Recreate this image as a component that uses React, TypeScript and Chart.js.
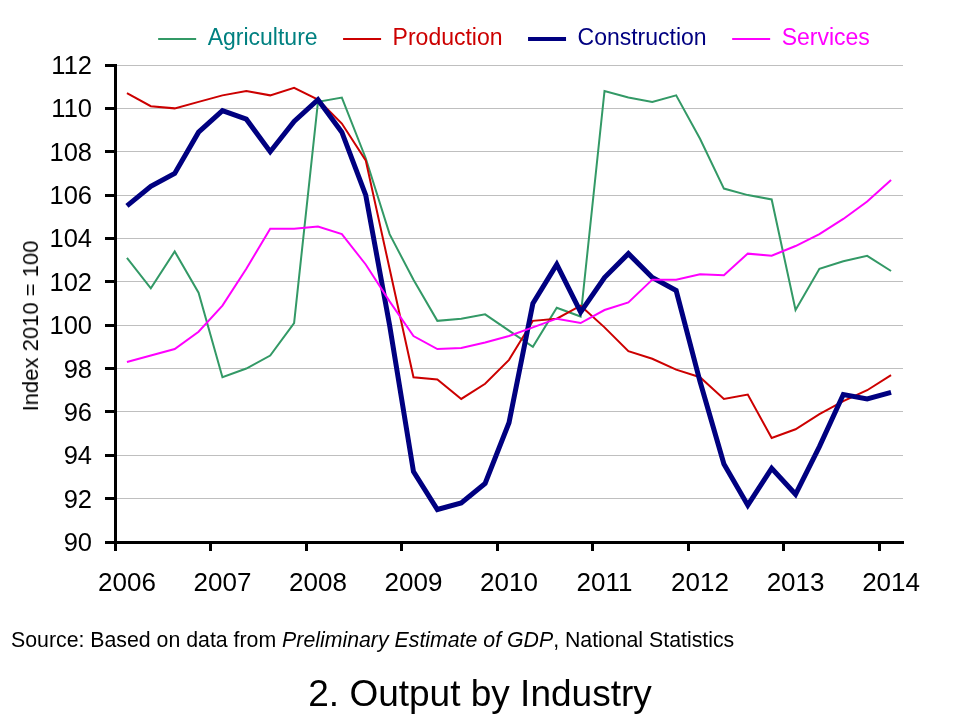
import { useEffect, useRef } from 'react';
import { Chart, registerables } from 'chart.js';

Chart.register(...registerables);

const quarters = [
  '2006 Q1', '2006 Q2', '2006 Q3', '2006 Q4',
  '2007 Q1', '2007 Q2', '2007 Q3', '2007 Q4',
  '2008 Q1', '2008 Q2', '2008 Q3', '2008 Q4',
  '2009 Q1', '2009 Q2', '2009 Q3', '2009 Q4',
  '2010 Q1', '2010 Q2', '2010 Q3', '2010 Q4',
  '2011 Q1', '2011 Q2', '2011 Q3', '2011 Q4',
  '2012 Q1', '2012 Q2', '2012 Q3', '2012 Q4',
  '2013 Q1', '2013 Q2', '2013 Q3', '2013 Q4',
  '2014 Q1',
];

const agriculture = [
  103.1, 101.7, 103.4, 101.5, 97.6, 98.0, 98.6, 100.1,
  110.3, 110.5, 107.7, 104.2, 102.1, 100.2, 100.3, 100.5,
  99.75, 99.0, 100.8, 100.4, 110.8, 110.5, 110.3, 110.6,
  108.6, 106.3, 106.0, 105.8, 100.7, 102.6, 102.95, 103.2,
  102.5,
];

const production = [
  110.7, 110.1, 110.0, 110.3, 110.6, 110.8, 110.6, 110.95,
  110.4, 109.3, 107.6, 102.6, 97.6, 97.5, 96.6, 97.3,
  98.4, 100.2, 100.3, 100.9, 99.9, 98.8, 98.45, 97.95,
  97.6, 96.6, 96.8, 94.8, 95.2, 95.9, 96.5, 97.0,
  97.7,
];

const construction = [
  105.5, 106.4, 107.0, 108.9, 109.9, 109.5, 108.0, 109.4,
  110.4, 108.9, 106.0, 100.0, 93.25, 91.5, 91.8, 92.7,
  95.5, 101.0, 102.8, 100.6, 102.2, 103.3, 102.2, 101.6,
  97.4, 93.6, 91.7, 93.4, 92.2, 94.4, 96.8, 96.6,
  96.9,
];

const services = [
  98.3, 98.6, 98.9, 99.7, 100.9, 102.6, 104.45, 104.45,
  104.55, 104.2, 102.8, 101.1, 99.5, 98.9, 98.95, 99.2,
  99.5, 99.9, 100.3, 100.1, 100.7, 101.05, 102.1, 102.1,
  102.35, 102.3, 103.3, 103.2, 103.65, 104.2, 104.9, 105.7,
  106.7,
];

const seriesNames = ['Agriculture', 'Production', 'Construction', 'Services'];
const lineColors = ['#339966', '#CC0000', '#000080', '#FF00FF'];
const legendTextColors = ['#008080', '#CC0000', '#000080', '#FF00FF'];
const lineWidths = [2, 2, 5, 2];
const legendLineWidths = [2, 2, 4, 2];

const yMin = 90;
const yMax = 112;
const yStep = 2;

const FONT = '"Liberation Sans", Arial, Helvetica, sans-serif';

const legendSizePlugin = {
  id: 'legendSize',
  beforeInit(chart: any) {
    const legend = chart.legend;
    if (!legend) return;
    const fit = legend.fit;
    legend.fit = function () {
      fit.call(this);
      this.height = 63;
    };
  },
  afterLayout(chart: any) {
    const l = chart.legend;
    if (l) {
      l.left += 5;
      l.right += 5;
    }
  },
};

export default function App() {
  const ref = useRef<HTMLCanvasElement>(null);

  useEffect(() => {
    const canvas = ref.current;
    if (!canvas) return;
    const seriesData = [agriculture, production, construction, services];
    const chart = new Chart(canvas, {
      type: 'line',
      data: {
        labels: quarters,
        datasets: seriesData.map((d, i) => ({
          label: seriesNames[i],
          data: d,
          borderColor: lineColors[i],
          backgroundColor: lineColors[i],
          borderWidth: lineWidths[i],
          pointRadius: 0,
          pointHoverRadius: 0,
          tension: 0,
          fill: false,
          order: 4 - i,
        })),
      },
      options: {
        responsive: false,
        animation: false,
        devicePixelRatio: 1,
        events: [],
        layout: { padding: { top: 2, left: 0, right: 57, bottom: 100 } },
        plugins: {
          tooltip: { enabled: false },
          legend: {
            display: true,
            position: 'top',
            fullSize: false,
            align: 'center',
            labels: {
              usePointStyle: true,
              pointStyle: 'line',
              pointStyleWidth: 38,
              boxHeight: 4,
              padding: 25.5,
              font: { family: FONT, size: 23 },
              generateLabels(ch: any) {
                return ch.data.datasets.map((ds: any, i: number) => ({
                  text: ds.label,
                  fillStyle: ds.borderColor,
                  strokeStyle: ds.borderColor,
                  lineWidth: legendLineWidths[i],
                  lineCap: 'butt',
                  pointStyle: 'line',
                  fontColor: legendTextColors[i],
                  hidden: false,
                  datasetIndex: i,
                }));
              },
            },
          },
        },
        scales: {
          x: {
            type: 'category',
            offset: true,
            grid: {
              display: true,
              offset: true,
              drawOnChartArea: false,
              drawTicks: true,
              tickLength: 9,
              tickWidth: 3,
              tickColor: (c: any) =>
                typeof c.index === 'number' && c.index % 4 === 0 ? '#000000' : 'rgba(0,0,0,0)',
            },
            border: { display: true, color: '#000000', width: 3 },
            ticks: {
              autoSkip: false,
              maxRotation: 0,
              minRotation: 0,
              padding: 17,
              color: '#000000',
              font: { family: FONT, size: 26 },
              callback: (_v: any, index: number) => {
                const l = quarters[index];
                return l && l.endsWith('Q1') ? l.slice(0, 4) : '';
              },
            },
            afterFit(scale: any) {
              scale.height = 78;
            },
          },
          y: {
            min: yMin,
            max: yMax,
            grid: {
              color: '#BFBFBF',
              lineWidth: 1,
              tickColor: '#000000',
              tickWidth: 3,
              tickLength: 10,
            },
            border: { display: true, color: '#000000', width: 3 },
            ticks: {
              stepSize: yStep,
              padding: 13,
              labelOffset: 2,
              color: '#000000',
              font: { family: FONT, size: 25.5 },
            },
            afterFit(scale: any) {
              scale.width = 115;
            },
          },
        },
      },
      plugins: [legendSizePlugin as any],
    } as any);
    return () => chart.destroy();
  }, []);

  return (
    <div
      style={{
        position: 'absolute',
        left: 0,
        top: 0,
        width: 960,
        height: 720,
        background: '#ffffff',
        fontFamily: FONT,
        color: '#000',
      }}
    >
      <canvas ref={ref} width={960} height={720} style={{ display: 'block', width: 960, height: 720 }} />
      <div
        style={{
          position: 'absolute',
          left: 31,
          top: 326,
          transform: 'translate(-50%, -50%) rotate(-90deg)',
          fontSize: 22,
          lineHeight: '22px',
          whiteSpace: 'nowrap',
        }}
      >
        Index 2010 = 100
      </div>
      <div
        style={{
          position: 'absolute',
          left: 11,
          top: 630,
          fontSize: 21.3,
          lineHeight: '21.3px',
          whiteSpace: 'nowrap',
        }}
      >
        Source: Based on data from <i>Preliminary Estimate of GDP</i>, National Statistics
      </div>
      <div
        style={{
          position: 'absolute',
          left: 0,
          top: 675,
          width: 960,
          textAlign: 'center',
          fontSize: 37,
          lineHeight: '37px',
          whiteSpace: 'nowrap',
        }}
      >
        2. Output by Industry
      </div>
    </div>
  );
}
